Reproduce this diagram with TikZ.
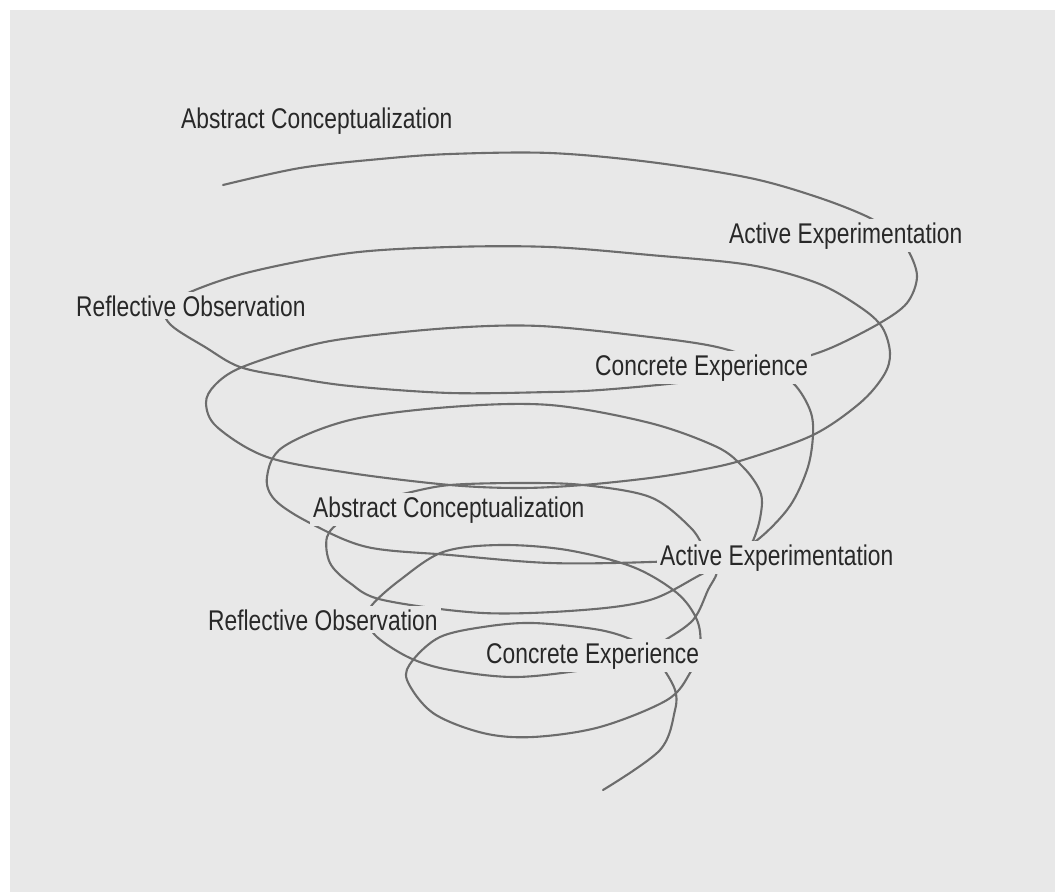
\documentclass[tikz,border=0pt]{standalone}
\usepackage{fontspec}
\setmainfont[FakeStretch=0.8]{Liberation Sans}
\usepackage{tikz}
\usetikzlibrary{positioning}

\definecolor{paper}{RGB}{232,232,232}
\definecolor{coil}{RGB}{108,108,108}
\definecolor{ink}{RGB}{40,40,40}

\tikzset{
    coilline/.style={ % the spiral itself
        draw=coil,
        line width=2.1pt,
        line cap=round
        },
    stage/.style={ % stage label, hides the coil behind it
        fill=paper,
        text=ink,
        anchor=base west,
        inner xsep=3pt,
        inner ysep=3pt,
        font=\fontsize{28.5}{31}\selectfont
        }
}

\begin{document}
\begin{tikzpicture}[x=1pt,y=-1pt]
\useasboundingbox (0,0) rectangle (1055,892);
\fill[white] (0,0) rectangle (1055,892);
\fill[paper] (10,10) rectangle (1055,892);

%%%%% the coil, top turn to tail
\draw[coilline] plot[smooth, tension=0.55] coordinates {
(223,185) (300,168) (380,159) (450,154) (550,153) (650,162) (750,178)
(817,197) (868,217) (895,235) (909,252) (917,277) (907,303) (880,323)
(833,347) (795,360) (740,374) (677,383) (600,390) (550,392) (450,393)
(350,386) (290,377) (240,367) (205,347) (172,326) (165,310) (188,293)
(250,272) (350,253) (450,247) (550,247) (650,255) (750,265) (817,283)
(860,307) (882,327) (890,353) (884,375) (860,403) (813,435) (743,460)
(700,470) (650,478) (583,485) (520,488) (450,485) (350,473) (267,457)
(217,427) (206,403) (215,385) (240,368) (300,348) (350,338) (450,328)
(540,326) (650,337) (717,347) (760,362) (793,383) (810,410) (813,435)
(807,470) (787,510) (747,547) (700,558) (650,562) (550,563) (450,555)
(367,547) (310,523) (275,500) (267,477) (283,447) (350,420) (450,407)
(550,405) (650,423) (717,447) (743,467) (758,487) (762,503) (757,530)
(745,550) (700,575) (650,600) (583,610) (483,613) (383,600) (350,583)
(330,563) (327,537) (342,520) (370,503) (407,493) (450,485) (520,483)
(583,485) (650,497) (690,527) (705,550) (717,570) (708,590) (693,620)
(662,642) (630,660) (597,668) (517,677) (450,670) (410,658) (377,637)
(368,620) (372,605) (400,580) (443,552) (500,545) (567,550) (633,567)
(677,593) (697,620) (700,647) (690,673) (667,700) (600,727) (533,737)
(483,733) (433,713) (407,680) (413,660) (440,637) (483,627) (533,623)
(600,630) (637,642) (652,655) (663,668) (675,690) (675,710) (660,750)
(603,790)};

%%%%% first turn labels
\node[stage] (ac1) at (178,128) {Abstract Conceptualization};
\node[stage] (ae1) at (726,243) {Active Experimentation};
\node[stage] (ce1) at (592,375) {Concrete Experience};
\node[stage] (ro1) at (73,316) {Reflective Observation};

%%%%% second turn labels
\node[stage] (ac2) at (310,517) {Abstract Conceptualization};
\node[stage] (ae2) at (657,565) {Active Experimentation};
\node[stage] (ro2) at (205,630) {Reflective Observation};
\node[stage] (ce2) at (483,663) {Concrete Experience};

\end{tikzpicture}
\end{document}
